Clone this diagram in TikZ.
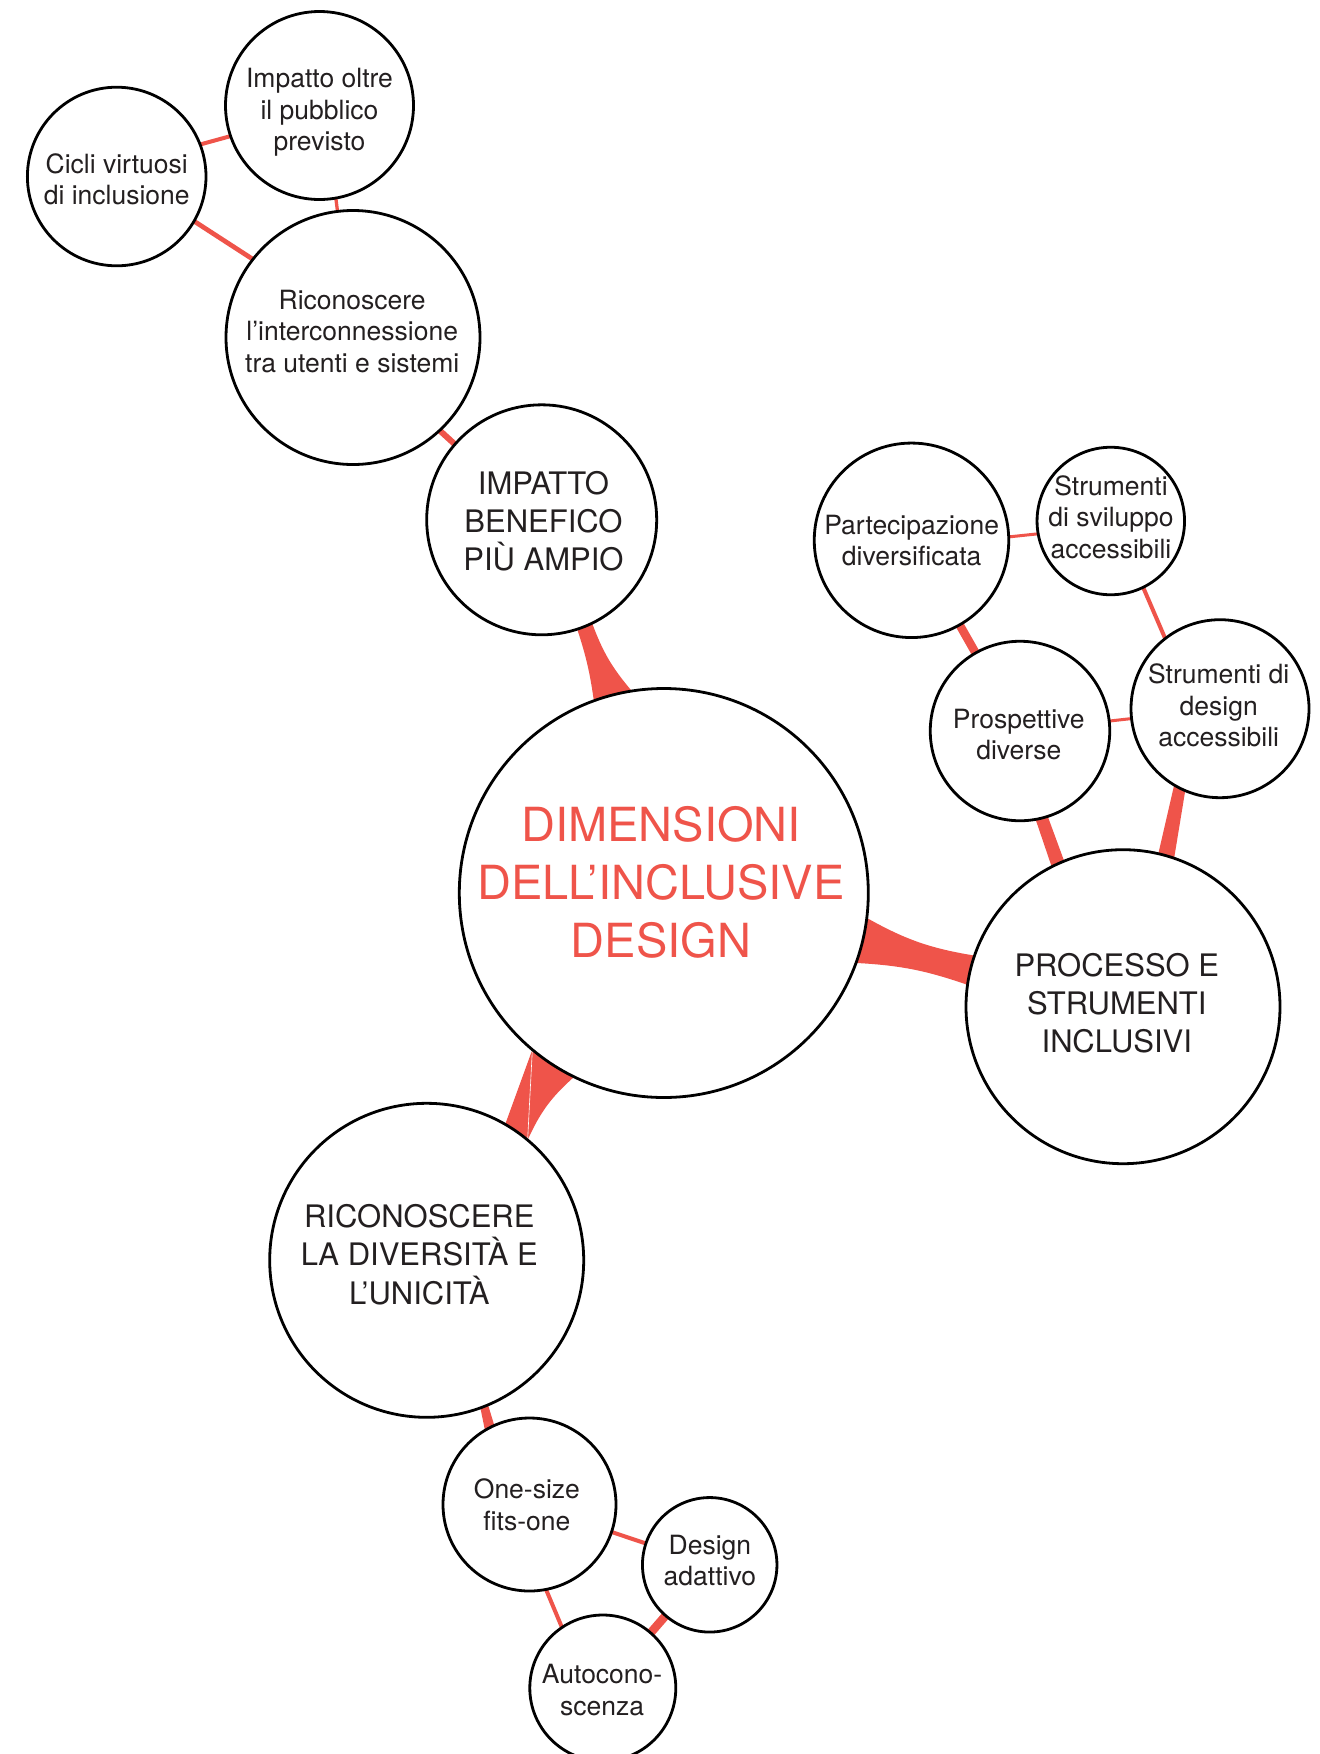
\documentclass[tikz,border=0pt]{standalone}
\usepackage{fontspec}
\setmainfont{TeX Gyre Heros}
\usetikzlibrary{calc}
\pgfdeclarelayer{paper}
\pgfdeclarelayer{links}
\pgfsetlayers{paper,links,main}
\definecolor{accent}{RGB}{239,84,74}
\definecolor{ink}{RGB}{35,31,32}
\tikzset{
  bubble/.style={circle, draw=black, line width=2.8pt, fill=white, outer sep=0pt, inner sep=0pt},
  lbl/.style={align=center, text=ink, inner sep=0pt, font=\fontsize{26.5}{31.6}\selectfont},
  lblcap/.style={lbl, font=\fontsize{31}{38.2}\selectfont},
  lblmain/.style={lbl, text=accent, font=\fontsize{47}{57.8}\selectfont},
  link/.style={draw=accent, line cap=butt},
  flow/.style={fill=accent},
}
\begin{document}
\begin{tikzpicture}[x=1pt, y=-1pt]
\useasboundingbox (0,0) rectangle (1320,1754);
\begin{pgfonlayer}{paper}
  \fill[white] (0,0) rectangle (1320,1754);
\end{pgfonlayer}

% ---- bubbles ----
\node[bubble, minimum size=409pt] (cen) at (663.8,893) {};
\node[bubble, minimum size=230pt] (imp) at (541.7,519.8) {};
\node[bubble, minimum size=254pt] (ri)  at (353,337.5) {};
\node[bubble, minimum size=188pt] (io)  at (319.5,105.5) {};
\node[bubble, minimum size=178.6pt] (cic) at (116.7,176.5) {};
\node[bubble, minimum size=314pt] (pro) at (1123,1006.7) {};
\node[bubble, minimum size=194.5pt] (part) at (911.5,540.3) {};
\node[bubble, minimum size=147.5pt] (ss) at (1110.8,521) {};
\node[bubble, minimum size=178pt] (sd) at (1220,708.7) {};
\node[bubble, minimum size=179.5pt] (pd) at (1020,731) {};
\node[bubble, minimum size=314pt] (ric) at (426.7,1260.3) {};
\node[bubble, minimum size=173pt] (os) at (529.5,1504.5) {};
\node[bubble, minimum size=134.5pt] (da) at (709.7,1564.8) {};
\node[bubble, minimum size=146pt] (au) at (602.8,1688) {};

% ---- labels ----
\node[lblmain] (cent) at (661,882.2) {DIMENSIONI\\DELL’INCLUSIVE\\DESIGN};
\node[lblcap] (impt) at (543.5,521.3) {IMPATTO\\BENEFICO\\PIÙ AMPIO};
\node[lblcap] (prot) at (1116.8,1003) {PROCESSO E\\STRUMENTI\\INCLUSIVI};
\node[lblcap] (rict) at (419.3,1254.6) {RICONOSCERE\\LA DIVERSITÀ E\\L’UNICITÀ};
\node[lbl] (rit) at (352.2,331.3) {Riconoscere\\l’interconnessione\\tra utenti e sistemi};
\node[lbl] (iot) at (319.5,112.4) {Impatto oltre\\il pubblico\\previsto};
\node[lbl] (cict) at (116.7,179.2) {Cicli virtuosi\\di inclusione};
\node[lbl] (partt) at (911.7,540.7) {Partecipazione\\diversificata};
\node[lbl] (sst) at (1111,517.2) {Strumenti\\di sviluppo\\accessibili};
\node[lbl] (pdt) at (1018.8,734.4) {Prospettive\\diverse};
\node[lbl] (sdt) at (1218.7,705.5) {Strumenti di\\design\\accessibili};
\node[lbl] (ost) at (526.9,1504.7) {One-size\\fits-one};
\node[lbl] (dat) at (709.9,1560.4) {Design\\adattivo};
\node[lbl] (aut) at (602.1,1690) {Autocono-\\scenza};

% ---- connectors, kept beneath the bubbles ----
\begin{pgfonlayer}{links}
  % tapered branches from the central bubble
  \fill[flow] (imp.-72.9) -- (imp.-64.6) to[bend right=10] (cen.99.6)
              -- (cen.110.1) to[bend right=5] (imp.-72.9) -- cycle;
  \fill[flow] (cen.-7.2) to[bend right=10] (pro.161.5)
              -- (pro.172.9) to[bend right=8] (cen.-20) -- cycle;
  \fill[flow] (cen.230.8) -- (cen.244.5) to[bend right=12] (ric.50.6)
              -- (ric.60.9) -- (cen.230.8) -- cycle;
  \draw[white, line width=0.6pt] (cen.230.8) -- (ric.50.6);
  % tapered branches to the outer bubbles
  \fill[flow] (sd.-121.6) -- (sd.-113.9) -- (pro.71.9) -- (pro.77.9) -- cycle;
  \fill[flow] (pd.-80.3) -- (pd.-72.7) -- (pro.112.6) -- (pro.117) -- cycle;
  \fill[flow] (ric.-70.9) -- (ric.-67.3) -- (os.114.1) -- (os.121.3) -- cycle;
  % plain links
  \draw[link, line width=4pt] (cic.21) -- (io.-161);
  \draw[link, line width=4.7pt] (cic.-30) -- (ri.142);
  \draw[link, line width=3.3pt] (io.-80) -- (ri.97);
  \draw[link, line width=6pt] (ri.-47) -- (imp.139);
  \draw[link, line width=3pt] (part.2) -- (ss.190);
  \draw[link, line width=8.5pt] (part) -- (pd);
  \draw[link, line width=4pt] (ss.-64) -- (sd.128);
  \draw[link, line width=3pt] (pd) -- (sd);
  \draw[link, line width=4pt] (os) -- (da);
  \draw[link, line width=4pt] (os.-79) -- (au.124);
  \draw[link, line width=8.5pt] (da) -- (au);
\end{pgfonlayer}
\end{tikzpicture}
\end{document}
